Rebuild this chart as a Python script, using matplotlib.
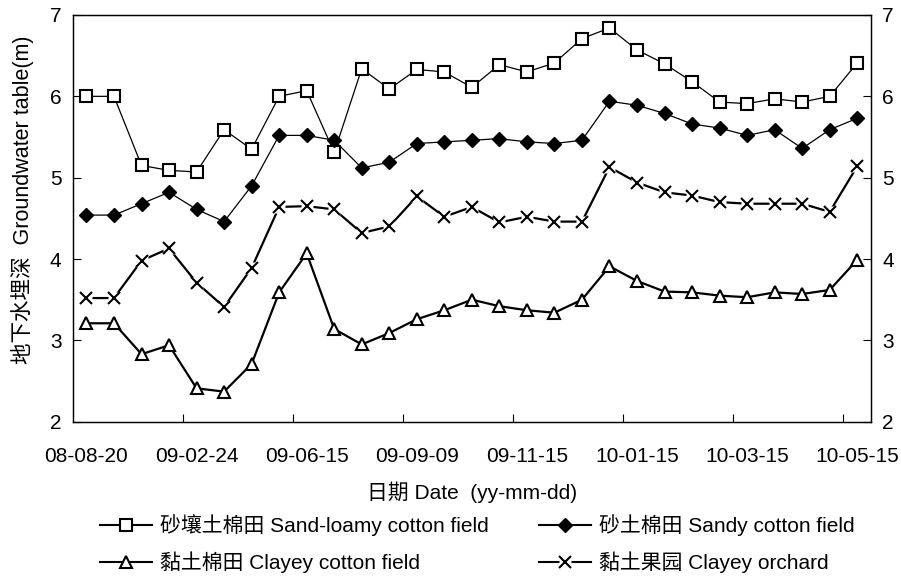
import matplotlib
matplotlib.use("Agg")
import matplotlib.pyplot as plt
from matplotlib.lines import Line2D
import numpy as np

plt.rcParams['font.family'] = ['Liberation Sans', 'Noto Sans CJK SC', 'DejaVu Sans']

# groundwater depth (m), 29 observation dates, only every 4th date labelled
tick_labels = ["08-08-20", "09-02-24", "09-06-15", "09-09-09",
               "09-11-15", "10-01-15", "10-03-15", "10-05-15"]

sand_loamy = [6.00, 6.00, 5.15, 5.09, 5.07, 5.59, 5.35, 6.00, 6.07, 5.31,
              6.34, 6.09, 6.33, 6.30, 6.11, 6.39, 6.30, 6.41, 6.71, 6.84,
              6.57, 6.40, 6.18, 5.93, 5.91, 5.97, 5.93, 6.00, 6.41]
sandy = [4.54, 4.54, 4.68, 4.82, 4.61, 4.46, 4.90, 5.52, 5.52, 5.46,
         5.12, 5.19, 5.42, 5.44, 5.46, 5.48, 5.44, 5.42, 5.46, 5.94,
         5.89, 5.79, 5.66, 5.61, 5.52, 5.59, 5.36, 5.59, 5.73]
clayey_orchard = [3.52, 3.52, 3.98, 4.13, 3.71, 3.41, 3.89, 4.64, 4.65, 4.61,
                  4.32, 4.40, 4.77, 4.52, 4.64, 4.45, 4.52, 4.46, 4.46, 5.13,
                  4.94, 4.82, 4.78, 4.70, 4.68, 4.68, 4.68, 4.58, 5.14]
clayey_cotton = [3.21, 3.21, 2.83, 2.94, 2.41, 2.37, 2.71, 3.59, 4.07, 3.14,
                 2.95, 3.09, 3.26, 3.37, 3.50, 3.42, 3.37, 3.34, 3.50, 3.91,
                 3.73, 3.60, 3.59, 3.55, 3.53, 3.59, 3.57, 3.62, 3.99]

labels = ["砂壤土棉田 Sand-loamy cotton field", "砂土棉田 Sandy cotton field",
          "黏土棉田 Clayey cotton field", "黏土果园 Clayey orchard"]

W, H = 901, 578
FS = 15
x = np.arange(len(sand_loamy))

fig = plt.figure(figsize=(W / 100, H / 100), dpi=100)
ax = fig.add_axes([72.7 / W, 1 - 421.7 / H, (871 - 72.7) / W, (421.7 - 15) / H])

sq = dict(color="black", lw=0.9, marker="s", ms=8.5, mfc="white", mec="black", mew=1.5)
dm = dict(color="black", lw=0.9, marker="D", ms=6.8, mfc="black", mec="black", mew=1)
tr = dict(color="black", lw=1.6, marker="^", ms=9, mfc="white", mec="black", mew=1.5)
xx = dict(color="black", lw=1.6, marker="x", ms=9, mec="black", mew=1.5)

ax.plot(x, sand_loamy, **sq, zorder=3)
ax.plot(x, sandy, **dm, zorder=4)
ax.plot(x, clayey_orchard, color="black", lw=1.6, zorder=2)
# white box behind the crosses breaks the line like Excel does
ax.plot(x, clayey_orchard, ls="none", marker="s", ms=9, mfc="white", mec="none", zorder=2.5)
ax.plot(x, clayey_orchard, ls="none", marker="x", ms=9, mec="black", mew=1.5, zorder=2.6)
ax.plot(x, clayey_cotton, **tr, zorder=3)

ax.set_xlim(-0.5, len(x) - 0.5)
ax.set_ylim(2, 7)
ax.set_yticks(range(2, 8))
ax.set_xticks(np.arange(0, len(x), 4))
ax.set_xticklabels(tick_labels)
ax.set_xticks(np.arange(3.5, len(x) - 0.5, 4), minor=True)
ax.tick_params(axis="x", which="major", length=0, pad=18, labelsize=FS)
ax.tick_params(axis="x", which="minor", direction="in", length=6, width=0.8)
ax.tick_params(axis="y", direction="in", length=6, width=0.8, pad=8, labelsize=FS)
for s in ax.spines.values():
    s.set_linewidth(0.9)

ax2 = ax.twinx()
ax2.set_ylim(2, 7)
ax2.set_yticks(range(2, 8))
ax2.tick_params(axis="y", direction="in", length=6, width=0.8, pad=8, labelsize=FS)
for s in ax2.spines.values():
    s.set_linewidth(0.9)

fig.text(472 / W, 1 - 492 / H, "日期 Date  (yy-mm-dd)", ha="center", va="center", fontsize=FS)
fig.text(22 / W, 1 - 200 / H, "地下水埋深  Groundwater table(m)", rotation=90,
         ha="center", va="center", fontsize=15.5)


def legend_entry(x0, y, label, style, cross=False):
    yf = 1 - y / H
    fig.add_artist(Line2D([x0 / W, (x0 + 52) / W], [yf, yf], transform=fig.transFigure,
                          color="black", lw=1.5))
    xm = (x0 + 26) / W
    if cross:
        fig.add_artist(Line2D([xm], [yf], transform=fig.transFigure, ls="none",
                              marker="s", ms=9, mfc="white", mec="none"))
    st = {k: v for k, v in style.items() if k not in ("color", "lw")}
    fig.add_artist(Line2D([xm], [yf], transform=fig.transFigure, ls="none", **st))
    fig.text((x0 + 60) / W, yf, label, ha="left", va="center", fontsize=FS)


legend_entry(100, 525, labels[0], sq)
legend_entry(539, 525, labels[1], dm)
legend_entry(100, 562, labels[2], tr)
legend_entry(539, 562, labels[3], xx, cross=True)

fig.savefig("out.png", dpi=100)
